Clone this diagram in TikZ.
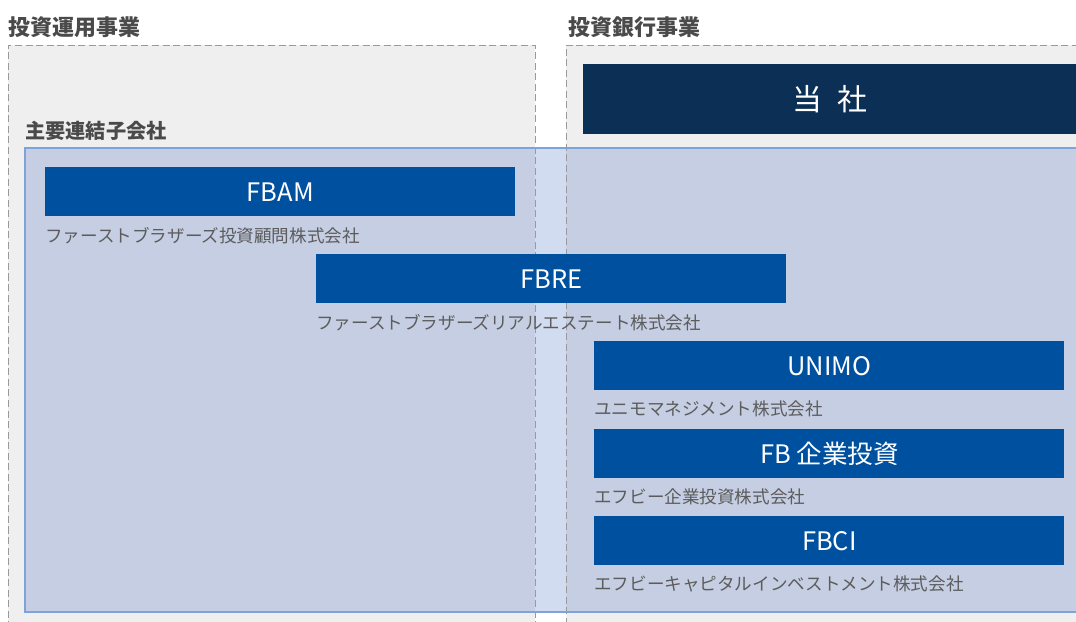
\documentclass[tikz,border=0pt]{standalone}
\usepackage{fontspec}
\setmainfont{Noto Sans CJK JP}
\usetikzlibrary{positioning}
\definecolor{areagray}{HTML}{EFEFEF}
\definecolor{dashgray}{HTML}{9A9A9A}
\definecolor{navy}{HTML}{0B2F55}
\definecolor{corpblue}{HTML}{0050A0}
\definecolor{overgray}{HTML}{C5CEE2}
\definecolor{overwhite}{HTML}{D2DCF0}
\definecolor{overlayline}{HTML}{7EA3D8}
\definecolor{textgray}{HTML}{4A4A4A}
\tikzset{
	dashline/.style={draw=dashgray,dash pattern=on 4pt off 2pt,line width=0.5pt},
	heading/.style={anchor=west,inner sep=0pt,text=textgray,font=\fontsize{12.5}{14}\selectfont\bfseries},
	company/.style={fill=corpblue,text=white,anchor=north west,inner sep=0pt,minimum width=9.4cm,minimum height=0.98cm,font=\fontsize{14.5}{17}\selectfont},
	sub/.style={text=textgray!90,inner sep=0pt,font=\fontsize{10}{12}\selectfont}
}
\begin{document}
\begin{tikzpicture}[x=0.02cm,y=-0.02cm]
	\useasboundingbox (0,0) rectangle (1076,622);
	\fill[white] (0,0) rectangle (1076,622);
	\fill[areagray] (8,45) rectangle (535,660);
	\fill[areagray] (566,45) rectangle (1100,660);
	\fill[overgray] (25,148) rectangle (1100,612);
	\fill[overwhite] (535,148) rectangle (566,612);
	\draw[dashline] (8,660) -- (8,45) -- (535,45) -- (535,660);
	\draw[dashline] (1100,45) -- (566,45) -- (566,660);
	\draw[overlayline,line width=1pt] (1100,148) -- (25,148) -- (25,612) -- (1100,612);
	\node[heading] (opsttl) at (8,27) {投資運用事業};
	\node[heading] (banttl) at (568,27) {投資銀行事業};
	\node[fill=navy,text=white,anchor=north west,inner sep=0pt,minimum width=9.86cm,minimum height=1.4cm,font=\fontsize{17}{20}\selectfont] (tosha) at (583,64) {当\hspace{0.5em}社};
	\node[heading,font=\fontsize{11.5}{13}\selectfont\bfseries] (subttl) at (25,131) {主要連結子会社};
	\node[company] (fbam) at (45,167) {FBAM};
	\node[sub] (fbamtxt) [below right=0.2cm and 0cm of fbam.south west] {ファーストブラザーズ投資顧問株式会社};
	\node[company] (fbre) at (316,254) {FBRE};
	\node[sub] (fbretxt) [below right=0.2cm and 0cm of fbre.south west] {ファーストブラザーズリアルエステート株式会社};
	\node[company] (unimo) at (594,341) {UNIMO};
	\node[sub] (unimotxt) [below right=0.2cm and 0cm of unimo.south west] {ユニモマネジメント株式会社};
	\node[company] (fbinv) at (594,429) {FB 企業投資};
	\node[sub] (fbinvtxt) [below right=0.2cm and 0cm of fbinv.south west] {エフビー企業投資株式会社};
	\node[company] (fbci) at (594,516) {FBCI};
	\node[sub] (fbcitxt) [below right=0.2cm and 0cm of fbci.south west] {エフビーキャピタルインベストメント株式会社};
\end{tikzpicture}
\end{document}
